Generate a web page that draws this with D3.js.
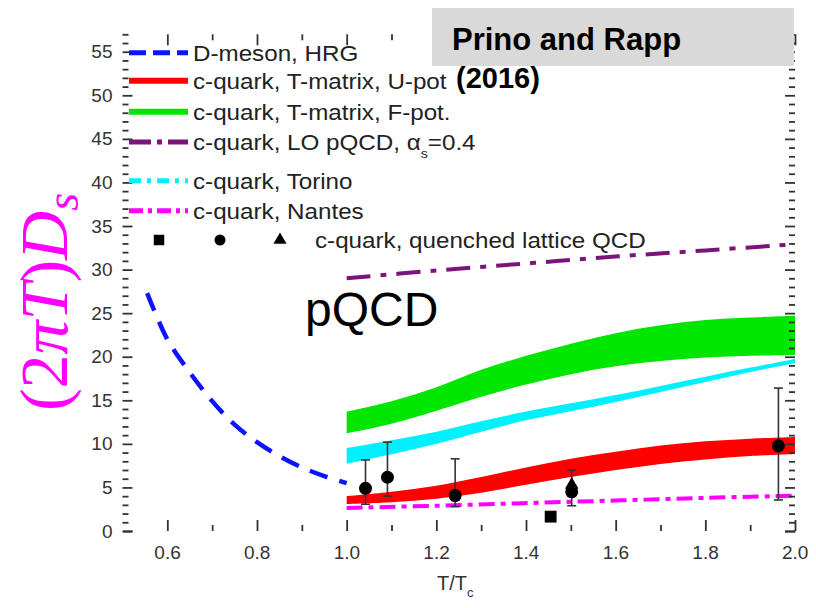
<!DOCTYPE html>
<html><head><meta charset="utf-8">
<script src="https://cdn.jsdelivr.net/npm/d3@7"></script>
<style>body{margin:0;background:#fff;} svg{display:block;font-family:"Liberation Sans",Arial,sans-serif;}</style>
</head><body><svg id="c" width="816" height="608"></svg>
<script>
// ---------- data ----------
const hrgT = [0.555,0.6,0.65,0.7,0.75,0.8,0.85,0.9,0.95,1.0];
const hrgD = [27.3,22.0,18.2,14.9,12.2,10.2,8.6,7.3,6.3,5.5];

const bandT    = [1.0,1.1,1.2,1.3,1.4,1.5,1.6,1.7,1.8,1.9,2.0];
const upotLow  = [3.1,3.3,3.7,4.4,5.3,6.2,7.0,7.7,8.2,8.6,8.85];
const upotHigh = [4.0,4.5,5.2,6.2,7.3,8.3,9.1,9.8,10.3,10.6,10.8];
const fpotLow  = [11.2,12.3,13.8,15.4,16.8,18.0,18.9,19.5,19.9,20.1,20.2];
const fpotHigh = [13.7,14.9,16.5,18.5,20.1,21.5,22.7,23.6,24.2,24.5,24.7];
const torinoLow  = [7.7,8.8,10.0,11.4,12.7,13.75,14.8,15.95,17.1,18.25,19.25];
const torinoHigh = [9.5,10.4,11.4,12.6,13.7,14.65,15.6,16.65,17.7,18.75,19.75];

const lineT  = [1.0,1.2,1.4,1.6,1.8,2.0];
const pqcdD  = [29.0,29.9,30.7,31.5,32.2,32.9];
const nantesD= [2.65,2.9,3.2,3.5,3.8,4.05];

const circT  = [1.042,1.091,1.242,1.502,1.963];
const circD  = [4.9,6.17,4.06,4.5,9.77];
const circLo = [3.07,4.0,2.8,2.9,3.56];
const circHi = [8.16,10.2,8.28,7.0,16.4];
const triT = [1.502], triD = [5.3];
const sqT  = [1.455], sqD  = [1.65];

const xMajor = [0.6,0.8,1.0,1.2,1.4,1.6,1.8,2.0];
const xTickLabels = ["0.6","0.8","1.0","1.2","1.4","1.6","1.8","2.0"];
const xMinor = [0.7,0.9,1.1,1.3,1.5,1.7,1.9];
const yMajor = [0,5,10,15,20,25,30,35,40,45,50,55];
const yTickLabels = ["0","5","10","15","20","25","30","35","40","45","50","55"];
const yMinor = d3.range(1,58).filter(v=>v%5!==0);

const legendLabels = ["D-meson, HRG","c-quark, T-matrix, U-pot","c-quark, T-matrix, F-pot.","c-quark, LO pQCD, α","c-quark, Torino","c-quark, Nantes"];
const legendColors = ["#0a14ff","#ff0000","#00e600","#7a1478","#00f0ff","#ff00ff"];
const legendDash   = ["17,7",null,null,"22,6,5,6","12,6,4,6","14,5,4,5"];
const legendY = [52.7,80.7,111.7,142,180.7,210.7];

// ---------- setup ----------
const svg = d3.select("#c");
const x = d3.scaleLinear().domain([0.5,2.0]).range([122.5,795]);
const y = d3.scaleLinear().domain([0,57]).range([531,34.3]);
const curve = d3.curveCatmullRom.alpha(0.5);

const band = (lo,hi)=>d3.area().curve(curve)
  .x((d,i)=>x(bandT[i])).y0((d,i)=>y(lo[i])).y1((d,i)=>y(hi[i]))(bandT);

svg.append("path").attr("d",band(fpotLow,fpotHigh)).attr("fill","#00e600");
svg.append("path").attr("d",band(torinoLow,torinoHigh)).attr("fill","#00f0ff");
svg.append("path").attr("d",band(upotLow,upotHigh)).attr("fill","#ff0000");

const ln = (ts,ds)=>d3.line().curve(curve).x((d,i)=>x(ts[i])).y((d,i)=>y(ds[i]))(ts);
svg.append("path").attr("d",ln(hrgT,hrgD)).attr("fill","none").attr("stroke","#0a14ff")
  .attr("stroke-width",4.5).attr("stroke-dasharray","19,12");
svg.append("path").attr("d",ln(lineT,pqcdD)).attr("fill","none").attr("stroke","#7a1478")
  .attr("stroke-width",4).attr("stroke-dasharray","24,10,6,10");
svg.append("path").attr("d",ln(lineT,nantesD)).attr("fill","none").attr("stroke","#ff00ff")
  .attr("stroke-width",4).attr("stroke-dasharray","16,6,5,6");

// error bars
const eb = svg.append("g").attr("stroke","#333").attr("stroke-width",1.6);
circT.forEach((t,i)=>{
  eb.append("line").attr("x1",x(t)).attr("x2",x(t)).attr("y1",y(circLo[i])).attr("y2",y(circHi[i]));
  [circLo[i],circHi[i]].forEach(v=>eb.append("line").attr("x1",x(t)-4.5).attr("x2",x(t)+4.5).attr("y1",y(v)).attr("y2",y(v)));
});
svg.selectAll(".circ").data(circT).join("circle").attr("cx",d=>x(d)).attr("cy",(d,i)=>y(circD[i])).attr("r",6.5).attr("fill","#000");
svg.selectAll(".tri").data(triT).join("path").attr("d",d3.symbol(d3.symbolTriangle,80))
  .attr("transform",(d,i)=>`translate(${x(d)},${y(triD[i])})`).attr("fill","#000");
svg.selectAll(".sq").data(sqT).join("path").attr("d",d3.symbol(d3.symbolSquare,140))
  .attr("transform",(d,i)=>`translate(${x(d)},${y(sqD[i])})`).attr("fill","#000");

// ---------- axes ----------
function styleAxis(g){ g.selectAll("line,path").attr("stroke","#333").attr("stroke-width",1.8); g.selectAll("text").attr("fill","#333").style("font-size","19px").style("font-family","Liberation Sans, Arial"); }
const gx = svg.append("g").attr("transform","translate(0,531)")
  .call(d3.axisBottom(x).tickValues(xMajor).tickSize(-11).tickFormat((d,i)=>xTickLabels[i]));
gx.selectAll("text").attr("y",27.5).attr("dy",null).attr("text-anchor","start").attr("x",-13.5);
styleAxis(gx);
const gxm = svg.append("g").attr("transform","translate(0,531)")
  .call(d3.axisBottom(x).tickValues(xMinor).tickSize(-6).tickFormat(""));
gxm.select(".domain").remove(); styleAxis(gxm);
const gt = svg.append("g").attr("transform","translate(0,34.3)")
  .call(d3.axisTop(x).tickValues(xMajor).tickSize(-11).tickFormat(""));
styleAxis(gt);
const gtm = svg.append("g").attr("transform","translate(0,34.3)")
  .call(d3.axisTop(x).tickValues(xMinor).tickSize(-6).tickFormat(""));
gtm.select(".domain").remove(); styleAxis(gtm);

const gy = svg.append("g").attr("transform","translate(122.5,0)")
  .call(d3.axisLeft(y).tickValues(yMajor).tickSize(-10).tickPadding(10).tickFormat((d,i)=>yTickLabels[i]));
styleAxis(gy);
const gym = svg.append("g").attr("transform","translate(122.5,0)")
  .call(d3.axisLeft(y).tickValues(yMinor).tickSize(-6).tickFormat(""));
gym.select(".domain").remove(); styleAxis(gym);
const gr = svg.append("g").attr("transform","translate(795,0)")
  .call(d3.axisRight(y).tickValues(yMajor).tickSize(-10).tickFormat(""));
styleAxis(gr);
const grm = svg.append("g").attr("transform","translate(795,0)")
  .call(d3.axisRight(y).tickValues(yMinor).tickSize(-6).tickFormat(""));
grm.select(".domain").remove(); styleAxis(grm);
svg.selectAll(".domain").attr("d",function(){return d3.select(this).attr("d").replace(/V-?[\d.]+H/g,"H").replace(/H-?[\d.]+V/g,"V");});

// x label
const xl = svg.append("text").attr("x",437).attr("y",590).attr("fill","#333").style("font-size","20px");
xl.append("tspan").text("T/T");
xl.append("tspan").text("c").style("font-size","13px").attr("dy",7);

// y label
const yl = svg.append("text").attr("transform","translate(67,302) rotate(-90)").attr("text-anchor","middle")
  .attr("fill","#ff00ff").style("font-family","Liberation Serif, Times New Roman, serif").style("font-size","68px");
yl.append("tspan").text("(2");
yl.append("tspan").text("πT").style("font-style","italic");
yl.append("tspan").text(")");
yl.append("tspan").text("D").style("font-style","italic");
yl.append("tspan").text("s").style("font-style","italic").style("font-size","46px").attr("dy",11);

// ---------- legend ----------
const lg = svg.append("g");
legendLabels.forEach((lab,i)=>{
  const ly = legendY[i];
  const sl = lg.append("line").attr("x1",129).attr("x2",188).attr("y1",ly).attr("y2",ly)
    .attr("stroke",legendColors[i]).attr("stroke-width",(i===1||i===2)?6:5);
  if(legendDash[i]) sl.attr("stroke-dasharray",legendDash[i]);
  const t = lg.append("text").attr("transform",`translate(193,${ly+8}) scale(1.1,1)`).attr("fill","#222").style("font-size","22px");
  t.append("tspan").text(lab);
  if(i===3){
    t.append("tspan").text("s").style("font-size","13px").attr("dy",8);
    t.append("tspan").text("=0.4").style("font-size","22px").attr("dy",-8);
  }
});
lg.append("path").attr("d",d3.symbol(d3.symbolSquare,110)).attr("transform","translate(159,240)").attr("fill","#000");
lg.append("circle").attr("cx",220).attr("cy",240).attr("r",5.5).attr("fill","#000");
lg.append("path").attr("d",d3.symbol(d3.symbolTriangle,75)).attr("transform","translate(280,240)").attr("fill","#000");
lg.append("text").attr("transform","translate(315,248) scale(1.1,1)").attr("fill","#222").style("font-size","22px").text("c-quark, quenched lattice QCD");

// pQCD label
svg.append("text").attr("x",305).attr("y",326).attr("fill","#000").style("font-size","48px").text("pQCD");

// gray annotation box
svg.append("rect").attr("x",432).attr("y",8).attr("width",362).attr("height",58).attr("fill","#d9d9d9");
svg.append("text").attr("x",452).attr("y",50).attr("fill","#000").style("font-size","31px").style("font-weight","bold").text("Prino and Rapp");
svg.append("text").attr("x",456).attr("y",88).attr("fill","#000").style("font-size","29px").style("font-weight","bold").text("(2016)");
</script></body></html>
